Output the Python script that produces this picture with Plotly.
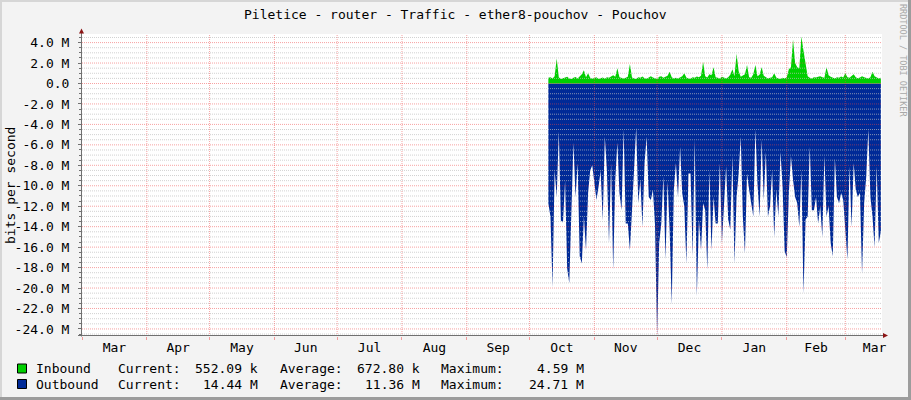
import plotly.graph_objects as go
import pandas as pd

# ---------------- data ----------------
TITLE = "Piletice - router - Traffic - ether8-pouchov - Pouchov"
Y_TITLE = "bits per second"
WATERMARK = "RRDTOOL / TOBI OETIKER"

START_DATE = "2024-10-10"          # first daily sample
X_RANGE = ["2024-03-01", "2025-03-18 13:00"]
Y_RANGE = [-24.69, 4.84]           # Mbit/s

# daily averages, Mbit/s
INBOUND_M = [
    0.55, 0.62, 0.48, 0.70, 2.45, 0.60, 0.45, 0.52, 0.58, 0.66,
    0.50, 0.44, 0.57, 0.63, 0.48, 0.70, 0.90, 1.30, 0.60, 1.00,
    0.55, 0.47, 0.52, 0.60, 0.45, 0.50, 0.58, 0.46, 0.62, 0.55,
    0.70, 0.80, 0.65, 1.50, 0.60, 0.52, 0.48, 0.57, 0.66, 1.90,
    0.58, 0.50, 0.45, 0.62, 0.55, 0.68, 0.52, 0.47, 0.60, 0.72,
    0.58, 0.50, 0.44, 0.65, 0.70, 0.55, 0.62, 0.75, 1.15, 0.62,
    0.50, 0.55, 0.48, 0.60, 0.72, 1.00, 0.58, 0.50, 0.47, 0.62,
    0.55, 0.68, 0.60, 0.75, 2.10, 0.70, 0.58, 0.90, 0.80, 1.60,
    0.62, 0.55, 0.50, 0.65, 0.58, 0.48, 0.60, 0.85, 1.40, 0.70,
    2.90, 1.20, 0.65, 0.75, 0.90, 1.80, 0.60, 0.55, 0.90, 1.80,
    0.70, 0.85, 1.60, 0.75, 0.60, 0.50, 0.55, 0.62, 1.00, 0.58,
    0.50, 0.45, 0.55, 0.50, 0.60, 1.40, 1.60, 4.30, 2.00, 1.60,
    1.50, 4.59, 3.20, 1.90, 0.70, 0.55, 0.50, 0.62, 0.58, 0.66,
    0.72, 0.60, 0.55, 1.60, 0.80, 0.65, 0.58, 0.50, 0.62, 0.55,
    0.68, 0.58, 1.00, 0.62, 0.55, 0.70, 0.90, 0.60, 0.52, 0.58,
    0.70, 0.62, 0.55, 0.48, 0.60, 1.15, 0.70, 0.58, 0.50, 0.55,
]
OUTBOUND_M = [
    11.7, 13.0, 19.9, 8.5, 11.1, 4.7, 13.4, 13.6, 9.5, 18.1,
    19.5, 12.0, 5.8, 11.1, 7.8, 16.9, 17.6, 13.0, 16.3, 10.7,
    8.5, 8.0, 9.8, 11.4, 10.1, 8.5, 13.4, 5.2, 8.5, 15.6,
    7.8, 18.2, 9.4, 5.8, 10.7, 12.4, 4.5, 13.7, 13.7, 16.3,
    12.4, 8.5, 4.3, 11.7, 9.4, 14.0, 7.8, 5.2, 11.1, 11.4,
    10.4, 13.8, 24.71, 15.6, 13.7, 9.1, 17.2, 9.6, 14.3, 21.6,
    10.4, 7.8, 11.1, 6.2, 10.7, 12.0, 17.6, 8.8, 8.8, 16.9,
    5.5, 20.8, 13.3, 16.3, 11.7, 12.4, 18.2, 8.5, 16.3, 11.1,
    13.7, 13.7, 7.8, 15.6, 11.4, 8.1, 13.3, 14.3, 7.1, 17.6,
    11.1, 8.8, 5.2, 13.0, 16.6, 8.8, 10.4, 11.7, 13.0, 4.5,
    9.8, 13.0, 5.5, 11.4, 6.7, 13.0, 12.0, 8.5, 15.0, 10.4,
    13.0, 6.7, 10.1, 16.4, 17.0, 10.7, 7.1, 9.4, 11.1, 11.7,
    14.0, 8.5, 20.5, 13.3, 13.0, 6.2, 12.4, 12.4, 11.1, 13.7,
    12.0, 15.0, 7.1, 13.0, 12.0, 15.6, 16.9, 7.3, 11.1, 11.7,
    10.7, 11.4, 14.3, 17.2, 8.1, 14.0, 7.8, 10.4, 11.1, 10.7,
    18.6, 11.7, 9.1, 4.5, 11.1, 13.0, 16.0, 8.1, 15.6, 14.44,
]

Y_TICKS = [4, 2, 0, -2, -4, -6, -8, -10, -12, -14, -16, -18, -20, -22, -24]
Y_TICK_TEXT = ["4.0 M", "2.0 M", "0.0", "-2.0 M", "-4.0 M", "-6.0 M", "-8.0 M",
               "-10.0 M", "-12.0 M", "-14.0 M", "-16.0 M", "-18.0 M", "-20.0 M",
               "-22.0 M", "-24.0 M"]
MINOR_STEP = 0.5

SERIES = ["Inbound", "Outbound"]
COLORS = ["#00CF00", "#002A97"]
CURRENT = ["552.09 k", "14.44 M"]
AVERAGE = ["672.80 k", "11.36 M"]
MAXIMUM = ["4.59 M", "24.71 M"]

# ---------------- layout helpers ----------------
W, H = 911, 400
L, R, T, B = 82, 882, 34, 336
FONT = "DejaVu Sans Mono"
BG = "#F3F3F3"
AXIS_COL = "#707070"
ARROW_COL = "#8B1414"
MINOR_GRID = "rgba(190,190,190,0.7)"
MAJOR_GRID = "rgba(240,70,70,0.5)"


def px(x):
    return (x - L) / (R - L)


def py(y):
    return (B - y) / (B - T)


dates = pd.date_range(START_DATE, periods=len(OUTBOUND_M), freq="D")
month_starts = pd.date_range("2024-04-01", "2025-03-01", freq="MS")

fig = go.Figure()
fig.add_trace(go.Scatter(
    x=dates, y=[-v for v in OUTBOUND_M], mode="lines", fill="tozeroy",
    line=dict(width=0, color=COLORS[1]), fillcolor=COLORS[1], hoverinfo="skip"))
fig.add_trace(go.Scatter(
    x=dates, y=INBOUND_M, mode="lines", fill="tozeroy",
    line=dict(width=0, color=COLORS[0]), fillcolor=COLORS[0], hoverinfo="skip"))

shapes = []
# horizontal grid (drawn above the data like rrdtool)
v = -24.5
while v <= 4.51:
    if abs(v / 2 - round(v / 2)) > 1e-6:
        shapes.append(dict(type="line", xref="paper", yref="y", x0=0, x1=1, y0=v, y1=v,
                           line=dict(color=MINOR_GRID, width=1, dash="1px,1px"), layer="above"))
    v += MINOR_STEP
for t in Y_TICKS:
    shapes.append(dict(type="line", xref="paper", yref="y", x0=0, x1=1, y0=t, y1=t,
                       line=dict(color=MAJOR_GRID, width=1, dash="1px,1px"), layer="above"))
for m in month_starts:
    shapes.append(dict(type="line", xref="x", yref="paper", x0=m, x1=m, y0=0, y1=1,
                       line=dict(color=MAJOR_GRID, width=1, dash="1px,1px"), layer="above"))

# axes lines + arrows
shapes.append(dict(type="line", xref="paper", yref="paper", x0=px(81.5), x1=px(81.5),
                   y0=py(336.5), y1=py(32), line=dict(color=AXIS_COL, width=1), layer="above"))
shapes.append(dict(type="line", xref="paper", yref="paper", x0=px(78), x1=px(884),
                   y0=py(335.5), y1=py(335.5), line=dict(color=AXIS_COL, width=1), layer="above"))
shapes.append(dict(type="path", xref="paper", yref="paper",
                   path=f"M {px(79)} {py(33.5)} L {px(84)} {py(33.5)} L {px(81.5)} {py(28.5)} Z",
                   fillcolor=ARROW_COL, line=dict(width=0), layer="above"))
shapes.append(dict(type="path", xref="paper", yref="paper",
                   path=f"M {px(883)} {py(333)} L {px(883)} {py(338)} L {px(888)} {py(335.5)} Z",
                   fillcolor=ARROW_COL, line=dict(width=0), layer="above"))

# frame (3D border)
shapes.append(dict(type="rect", xref="paper", yref="paper", x0=px(0), x1=px(2), y0=py(400), y1=py(0),
                   fillcolor="#D6D6D6", line=dict(width=0)))
shapes.append(dict(type="rect", xref="paper", yref="paper", x0=px(0), x1=px(911), y0=py(2), y1=py(0),
                   fillcolor="#D6D6D6", line=dict(width=0)))
shapes.append(dict(type="rect", xref="paper", yref="paper", x0=px(908), x1=px(911), y0=py(400), y1=py(0),
                   fillcolor="#9C9C9C", line=dict(width=0)))
shapes.append(dict(type="rect", xref="paper", yref="paper", x0=px(0), x1=px(911), y0=py(400), y1=py(397),
                   fillcolor="#9C9C9C", line=dict(width=0)))

annotations = []


def text(x, y, s, anchor="left", size=13, color="black", angle=0):
    annotations.append(dict(x=px(x), y=py(y), xref="paper", yref="paper", text=s, showarrow=False,
                            xanchor=anchor, yanchor="middle", textangle=angle,
                            font=dict(family=FONT, size=size, color=color)))


text(455.5, 14, TITLE, anchor="center")
text(10, 186, Y_TITLE, anchor="center", angle=-90)
text(903, 60, WATERMARK, anchor="center", size=8.5, color="#A8A8A8", angle=90)

rows_y = [368.5, 384]
for i, name in enumerate(SERIES):
    yy = rows_y[i]
    shapes.append(dict(type="rect", xref="paper", yref="paper", x0=px(17.5), x1=px(26.5),
                       y0=py(yy + 4.5), y1=py(yy - 4.5), fillcolor=COLORS[i],
                       line=dict(color="black", width=1)))
    text(33.5, yy, name)
    text(115.8, yy, "Current:")
    text(260, yy, CURRENT[i], anchor="right")
    text(277.7, yy, "Average:")
    text(422, yy, AVERAGE[i], anchor="right")
    text(439.2, yy, "Maximum:")
    text(585.5, yy, MAXIMUM[i], anchor="right")

fig.update_layout(
    width=W, height=H,
    margin=dict(l=L, r=W - R, t=T, b=H - B, pad=0),
    paper_bgcolor=BG, plot_bgcolor="white",
    showlegend=False, hovermode=False,
    shapes=shapes, annotations=annotations,
    xaxis=dict(type="date", range=X_RANGE, showgrid=False, zeroline=False, showline=False,
               ticks="outside", ticklen=3, tickcolor=MAJOR_GRID, tick0="2024-03-01", dtick="M1",
               ticklabelmode="period", tickformat="%b", ticklabelstandoff=-4,
               tickfont=dict(family=FONT, size=13, color="black")),
    yaxis=dict(range=Y_RANGE, tickvals=Y_TICKS, ticktext=Y_TICK_TEXT, showgrid=False,
               zeroline=False, showline=False, ticks="outside", ticklen=3, tickcolor=AXIS_COL,
               ticklabelstandoff=6,
               minor=dict(tick0=0, dtick=MINOR_STEP, ticks="outside", ticklen=2, tickcolor=AXIS_COL),
               tickfont=dict(family=FONT, size=13, color="black")),
)

fig.write_html("out.html", config={"displayModeBar": False, "staticPlot": True},
               post_script="document.body.style.margin='0px';")
